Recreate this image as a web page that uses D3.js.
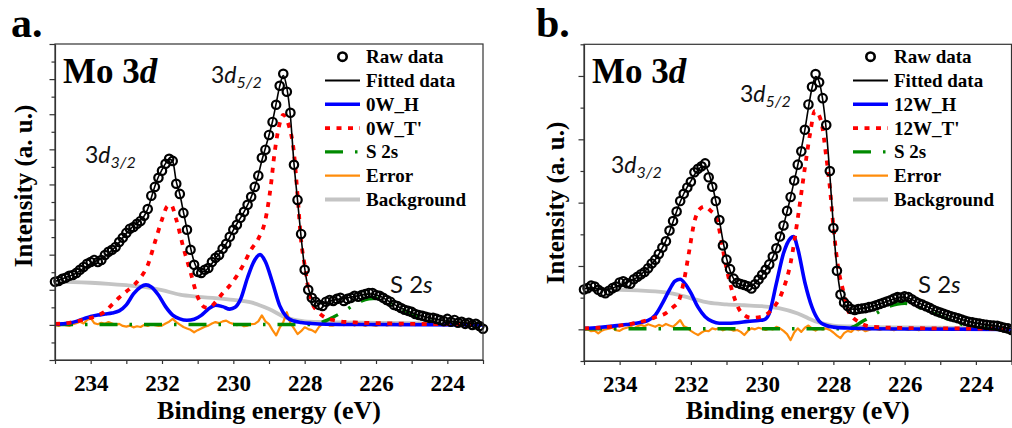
<!DOCTYPE html>
<html>
<head>
<meta charset="utf-8">
<script src="https://cdn.jsdelivr.net/npm/d3@7"></script>
<style>
  html, body { margin: 0; padding: 0; background: #fff; }
  svg { display: block; }
  .serif { font-family: "Liberation Serif", "Times New Roman", serif; font-weight: bold; }
  .sans { font-family: Lato, "Open Sans", sans-serif; }
</style>
</head>
<body>
<svg id="chart" width="1012" height="428"></svg>
<script>
// Binding-energy grid of the measured spectra (eV), 0.1 eV step from 235 to 223
const energies = d3.range(121).map(i => +(235 - i * 0.1).toFixed(1));
const xTicks = d3.range(223, 236);
const xTickLabels = [234, 232, 230, 228, 226, 224];

// ---------- Panel a: 0W ----------
const rawA = [1.23,1.25,1.31,1.34,1.40,1.42,1.48,1.57,1.65,1.74,
  1.79,1.85,1.79,1.85,1.99,2.08,2.14,2.22,2.36,2.48,
  2.62,2.74,2.79,2.88,2.96,3.11,3.30,3.68,3.93,4.19,
  4.39,4.59,4.73,4.67,4.02,3.73,3.19,2.71,2.14,1.71,
  1.51,1.48,1.57,1.62,1.79,1.91,1.99,2.17,2.31,2.51,
  2.71,2.85,3.05,3.22,3.42,3.65,3.93,4.25,4.76,4.99,
  5.41,
  5.78,6.27,6.81,7.15,6.64,6.04,4.56,3.56,2.59,1.57,
  1.00,0.77,0.66,0.57,0.54,0.66,0.71,0.68,0.74,0.77,
  0.68,0.74,0.77,0.83,0.80,0.85,0.88,0.91,0.91,0.85,
  0.83,0.77,0.71,0.66,0.57,0.54,0.48,0.43,0.40,0.37,
  0.31,0.28,0.26,0.23,0.20,0.20,0.17,0.14,0.11,0.17,
  0.09,0.14,0.06,0.09,0.03,0.06,0.00,0.03,-0.03,-0.11];

const fitA = [1.24,1.27,1.31,1.35,1.39,1.43,1.48,1.54,1.61,1.68,
  1.75,1.80,1.84,1.89,1.96,2.04,2.13,2.23,2.35,2.48,
  2.61,2.72,2.82,2.90,2.99,3.10,3.30,3.62,3.95,4.22,
  4.42,4.60,4.72,4.66,4.08,3.72,3.22,2.72,2.20,1.80,
  1.58,1.50,1.53,1.62,1.75,1.90,2.02,2.16,2.31,2.50,
  2.70,2.88,3.05,3.22,3.42,3.64,3.92,4.27,4.68,5.04,
  5.40,
  5.80,6.30,6.80,7.10,6.75,5.95,4.60,3.55,2.50,1.62,
  1.05,0.78,0.66,0.60,0.60,0.63,0.67,0.70,0.72,0.74,
  0.75,0.77,0.79,0.81,0.83,0.85,0.87,0.88,0.88,0.86,
  0.82,0.77,0.71,0.65,0.59,0.53,0.48,0.43,0.39,0.35,
  0.31,0.28,0.25,0.22,0.20,0.18,0.16,0.14,0.12,0.11,
  0.10,0.09,0.08,0.07,0.06,0.05,0.05,0.04,0.04,0.03];

const errA = [0.00,-0.03,0.02,-0.01,-0.03,0.02,0.05,0.09,0.04,0.14,
  0.20,0.05,0.02,0.06,0.03,0.08,0.04,0.00,0.03,-0.03,
  -0.05,-0.02,-0.07,-0.04,-0.06,0.00,-0.03,0.02,-0.01,-0.03,
  -0.02,0.04,0.09,0.17,0.08,0.01,-0.06,-0.10,-0.14,-0.21,
  -0.15,-0.10,-0.05,-0.02,0.04,0.08,0.05,0.10,0.12,0.06,
  0.03,-0.01,0.02,-0.04,-0.02,0.02,0.03,0.10,0.27,0.10,
  0.02,
  -0.15,-0.30,-0.08,0.08,0.36,0.05,-0.10,-0.26,-0.18,-0.07,
  -0.12,-0.15,-0.21,-0.06,0.03,0.05,-0.02,-0.02,0.02,0.03,
  -0.01,0.04,0.02,-0.02,0.05,0.01,-0.03,0.02,-0.01,-0.03,
  0.01,0.03,-0.02,0.01,0.04,0.00,-0.02,0.03,0.01,0.02,
  -0.01,0.03,0.00,0.05,0.08,0.12,0.04,0.01,-0.02,0.00,
  0.02,-0.01,0.01,0.03,0.02,0.00,-0.01,0.01,0.00,0.00];

const hA = [[235,0.02],[234.8,0.03],[234.6,0.05],[234.4,0.10],[234.2,0.17],[234.0,0.24],[233.8,0.28],[233.6,0.31],
  [233.4,0.34],[233.2,0.40],[233.0,0.57],[232.8,0.88],[232.6,1.08],[232.45,1.14],[232.3,1.08],[232.1,0.85],
  [231.9,0.52],[231.7,0.28],[231.5,0.17],[231.3,0.13],[231.1,0.16],[230.9,0.27],[230.7,0.45],[230.5,0.56],
  [230.3,0.52],[230.1,0.45],[229.95,0.50],[229.8,0.72],[229.6,1.35],[229.4,1.85],[229.25,2.00],[229.1,1.80],
  [228.9,1.20],[228.7,0.55],[228.5,0.22],[228.3,0.11],[228.1,0.07],[227.8,0.04],[227.4,0.02],[226.5,0.01],[223,0.0]];

const tA = [[235,0.03],[234.8,0.04],[234.6,0.06],[234.4,0.10],[234.2,0.15],[234.0,0.20],[233.8,0.27],[233.6,0.38],
  [233.4,0.58],[233.2,0.78],[233.0,0.95],[232.8,1.12],[232.6,1.35],[232.4,1.70],[232.2,2.35],[232.0,3.00],
  [231.85,3.38],[231.75,3.42],[231.6,3.00],[231.4,2.20],[231.2,1.50],[231.0,0.80],[230.8,0.50],[230.7,0.48],
  [230.5,0.65],[230.3,0.90],[230.1,1.12],[229.9,1.40],[229.7,1.75],[229.5,2.15],[229.3,2.45],[229.1,3.00],
  [228.95,3.95],[228.85,4.85],[228.75,5.50],[228.6,5.98],[228.45,5.70],[228.3,4.90],[228.2,3.70],[228.1,2.40],
  [228.0,1.70],[227.9,1.05],[227.8,0.65],[227.6,0.35],[227.4,0.20],[227.2,0.14],[227.0,0.10],[226.6,0.07],
  [226.0,0.05],[225.0,0.03],[224.0,0.02],[223.0,0.02]];

const sA = [[235,0.01],[227.8,0.01],[227.6,0.05],[227.4,0.12],[227.2,0.22],[227.0,0.33],[226.8,0.45],[226.6,0.58],
  [226.4,0.68],[226.2,0.74],[226.0,0.76],[225.8,0.72],[225.6,0.62],[225.4,0.52],[225.2,0.41],[225.0,0.31],
  [224.8,0.22],[224.6,0.15],[224.4,0.09],[224.2,0.05],[224.0,0.03],[223.5,0.01],[223,0.01]];

const bgA = [[235,1.23],[234.5,1.22],[234.0,1.20],[233.5,1.17],[233.0,1.13],[232.5,1.08],[232.0,0.99],[231.5,0.86],
  [231.0,0.80],[230.5,0.76],[230.0,0.71],[229.5,0.64],[229.0,0.45],[228.5,0.20],[228.0,0.10],[227.5,0.08],
  [227.0,0.07],[226.0,0.06],[225.0,0.05],[224.0,0.04],[223.0,0.03]];

// ---------- Panel b: 12W ----------
const rawB = [1.26,1.30,1.38,1.35,1.25,1.18,1.14,1.22,1.30,1.35,
  1.48,1.52,1.46,1.44,1.58,1.66,1.74,1.81,1.93,2.08,
  2.20,2.38,2.58,2.78,3.12,3.42,3.72,4.05,4.28,4.48,
  4.66,4.96,5.07,5.15,5.24,4.80,4.50,4.05,3.45,2.65,
  2.20,1.90,1.60,1.47,1.43,1.40,1.36,1.29,1.42,1.57,
  1.72,1.88,2.05,2.30,2.56,2.93,3.28,3.74,4.18,4.70,
  5.20,
  5.62,6.30,7.10,7.66,8.06,7.80,7.30,6.45,5.00,3.20,
  1.85,1.10,0.85,0.74,0.64,0.61,0.64,0.66,0.67,0.70,
  0.72,0.76,0.80,0.84,0.88,0.92,0.97,1.02,1.00,1.04,
  1.02,0.95,0.88,0.82,0.78,0.73,0.68,0.62,0.57,0.53,
  0.49,0.45,0.41,0.38,0.35,0.31,0.27,0.24,0.22,0.20,
  0.18,0.16,0.14,0.13,0.12,0.11,0.08,0.05,0.03,-0.02];

const fitB = [1.28,1.30,1.31,1.30,1.28,1.26,1.25,1.27,1.30,1.35,
  1.40,1.44,1.48,1.53,1.58,1.65,1.74,1.83,1.94,2.06,
  2.20,2.37,2.57,2.80,3.08,3.40,3.72,4.02,4.28,4.50,
  4.68,4.88,5.03,5.13,5.15,4.95,4.55,4.05,3.45,2.80,
  2.25,1.85,1.60,1.47,1.41,1.38,1.36,1.38,1.45,1.57,
  1.71,1.87,2.05,2.28,2.56,2.90,3.28,3.72,4.18,4.68,
  5.18,
  5.70,6.30,7.00,7.62,7.98,7.82,7.25,6.30,4.90,3.25,
  1.95,1.15,0.82,0.70,0.65,0.63,0.64,0.66,0.68,0.70,
  0.73,0.76,0.80,0.84,0.88,0.92,0.96,0.99,1.01,1.01,
  0.98,0.94,0.89,0.83,0.78,0.73,0.68,0.62,0.57,0.53,
  0.49,0.45,0.41,0.38,0.35,0.31,0.28,0.25,0.22,0.20,
  0.18,0.16,0.14,0.13,0.12,0.10,0.08,0.06,0.04,0.03];

const errB = [-0.02,0.00,-0.06,-0.04,-0.13,-0.04,0.00,0.02,0.05,-0.03,
  -0.05,0.02,0.05,0.08,0.03,0.10,0.14,0.10,0.16,0.12,
  0.08,0.14,0.10,0.17,0.12,0.08,0.18,0.29,0.10,0.05,
  -0.05,-0.12,-0.18,-0.10,-0.04,-0.06,0.03,0.00,0.04,-0.03,
  0.02,0.00,-0.04,-0.02,-0.08,-0.18,-0.05,0.03,0.00,0.05,
  0.02,-0.02,0.03,0.00,0.08,0.03,-0.05,-0.15,-0.34,-0.10,
  0.03,
  -0.08,0.05,0.12,0.02,-0.04,0.03,0.00,0.03,-0.02,-0.10,
  -0.20,-0.28,-0.12,-0.05,-0.08,0.02,-0.03,0.01,-0.06,-0.02,
  0.03,0.01,-0.02,0.02,0.04,0.00,-0.03,0.02,0.05,0.01,
  -0.02,0.02,0.00,-0.03,0.01,0.03,0.00,-0.02,0.02,0.05,
  0.01,-0.02,0.00,0.02,-0.01,0.01,0.03,0.00,-0.02,0.01,
  0.00,0.02,-0.01,0.00,0.01,-0.01,0.00,0.01,0.00,0.00];

const hB = [[235,0.03],[234.6,0.06],[234.2,0.10],[233.8,0.15],[233.4,0.22],[233.2,0.28],[233.0,0.45],[232.8,0.82],
  [232.6,1.25],[232.45,1.52],[232.3,1.58],[232.15,1.42],[232.0,1.15],[231.8,0.70],[231.6,0.40],[231.4,0.25],
  [231.2,0.19],[231.0,0.19],[230.7,0.21],[230.4,0.25],[230.1,0.28],[229.95,0.30],[229.8,0.50],[229.6,1.45],
  [229.4,2.40],[229.2,2.88],[229.12,2.93],[229.0,2.55],[228.8,1.48],[228.6,0.70],[228.4,0.26],[228.2,0.12],
  [228.0,0.07],[227.6,0.04],[227.0,0.02],[226.0,0.01],[223,0.0]];

const tB = [[235,0.03],[234.6,0.05],[234.2,0.09],[233.8,0.15],[233.4,0.24],[233.2,0.30],[233.0,0.38],[232.7,0.51],
  [232.5,0.70],[232.35,0.87],[232.2,1.50],[232.05,2.45],[231.9,3.40],[231.75,3.80],[231.62,3.88],[231.45,3.75],
  [231.3,3.55],[231.15,2.85],[231.05,2.20],[230.9,1.45],[230.75,0.90],[230.6,0.55],[230.3,0.36],[230.0,0.40],
  [229.75,0.60],[229.45,1.14],[229.2,2.10],[229.0,3.50],[228.8,5.10],[228.65,6.20],[228.52,6.90],[228.35,6.60],
  [228.2,5.45],[228.1,4.50],[228.0,3.25],[227.87,1.98],[227.73,1.24],[227.6,0.62],[227.3,0.24],[226.9,0.08],
  [226.0,0.04],[225.0,0.03],[223,0.02]];

const sB = [[235,0.02],[227.6,0.02],[227.4,0.10],[227.2,0.24],[227.0,0.36],[226.8,0.50],[226.6,0.64],[226.4,0.74],
  [226.2,0.80],[226.0,0.82],[225.8,0.78],[225.6,0.69],[225.4,0.60],[225.2,0.51],[225.0,0.42],[224.8,0.33],
  [224.6,0.24],[224.4,0.16],[224.2,0.10],[224.0,0.06],[223.8,0.04],[223.4,0.02],[223,0.02]];

const bgB = [[235,1.26],[234.5,1.26],[234.0,1.25],[233.5,1.23],[233.0,1.20],[232.5,1.13],[232.0,0.98],[231.5,0.84],
  [231.0,0.79],[230.5,0.76],[230.0,0.73],[229.5,0.66],[229.0,0.50],[228.5,0.25],[228.0,0.12],[227.5,0.09],
  [227.0,0.07],[226.0,0.06],[225.0,0.05],[224.0,0.04],[223.0,0.03]];

const legendLabelsA = ["Raw data", "Fitted data", "0W_H", "0W_T'", "S 2s", "Error", "Background"];
const legendLabelsB = ["Raw data", "Fitted data", "12W_H", "12W_T'", "S 2s", "Error", "Background"];

// Line styles of the fit components
const styles = {
  fit:   { stroke: "#000", width: 1.6, dash: null },
  H:     { stroke: "#0000ff", width: 3.6, dash: null },
  T:     { stroke: "#ff0000", width: 3.8, dash: "5,6.5" },
  S:     { stroke: "#008a00", width: 3.4, dash: "18,12,2.5,12" },
  err:   { stroke: "#ff8c0a", width: 2.2, dash: null },
  bg:    { stroke: "#c4c4c4", width: 3.8, dash: null }
};

const svg = d3.select("#chart");

function drawPanel(p) {
  const x = d3.scaleLinear().domain([235, 223]).range([p.left, p.right]);
  const y = d3.scaleLinear().domain(p.yDomain).range([p.bottom, p.top]);
  const g = svg.append("g");

  const clipId = "clip-" + p.id;
  g.append("clipPath").attr("id", clipId).append("rect")
    .attr("x", p.left).attr("y", p.top).attr("width", p.right - p.left).attr("height", p.bottom - p.top);

  const pairLine = d3.line().x(d => x(d[0])).y(d => y(d[1])).curve(d3.curveMonotoneX);
  const gridLine = d3.line().x((d, i) => x(energies[i])).y(d => y(d)).curve(d3.curveMonotoneX);
  const errLine = d3.line().x((d, i) => x(energies[i])).y(d => y(d)).curve(d3.curveLinear);

  const plot = g.append("g").attr("clip-path", `url(#${clipId})`);
  function path(gen, data, st) {
    const el = plot.append("path").datum(data).attr("d", gen)
      .attr("fill", "none").attr("stroke", st.stroke).attr("stroke-width", st.width)
      .attr("stroke-linejoin", "round");
    if (st.dash) el.attr("stroke-dasharray", st.dash);
    return el;
  }
  path(pairLine, p.bg, styles.bg);
  path(errLine, p.err, styles.err);
  path(pairLine, p.s, styles.S);
  path(pairLine, p.h, styles.H);
  path(pairLine, p.t, styles.T);

  // raw data circles
  g.append("g").selectAll("circle").data(p.raw).join("circle")
    .attr("cx", (d, i) => x(energies[i])).attr("cy", d => y(d)).attr("r", 4.2)
    .attr("fill", "none").attr("stroke", "#000").attr("stroke-width", 2.2);
  // fitted envelope on top
  g.append("path").datum(p.fit).attr("d", gridLine)
    .attr("fill", "none").attr("stroke", styles.fit.stroke).attr("stroke-width", styles.fit.width);

  // frame
  g.append("rect").attr("x", p.left).attr("y", p.top).attr("width", p.right - p.left).attr("height", p.bottom - p.top)
    .attr("fill", "none").attr("stroke", "#333").attr("stroke-width", 1.2);

  // x axis
  const xAxis = d3.axisBottom(x).tickValues(xTicks)
    .tickFormat(d => xTickLabels.includes(d) ? d : "")
    .tickSizeInner(4).tickSizeOuter(0).tickPadding(11);
  const xa = g.append("g").attr("transform", `translate(0,${p.bottom})`).call(xAxis);
  xa.select(".domain").attr("stroke", "#333").attr("stroke-width", 1.2);
  xa.selectAll(".tick line").attr("stroke", "#333").attr("stroke-width", 1.2);
  xa.selectAll(".tick text").attr("class", "serif").attr("font-size", 23).attr("fill", "#000");

  // y axis (unlabelled, major and minor ticks)
  const yAxis = d3.axisLeft(y).tickValues(p.yTicks).tickFormat("").tickSizeOuter(0).tickSizeInner(5);
  const ya = g.append("g").attr("transform", `translate(${p.left},0)`).call(yAxis);
  ya.select(".domain").attr("stroke", "#333").attr("stroke-width", 1.2);
  ya.selectAll(".tick line").attr("stroke", "#333").attr("stroke-width", 1.2)
    .attr("x2", d => p.yMajor(d) ? -5.5 : -3.5);

  // axis titles
  g.append("text").attr("class", "serif").attr("font-size", 26).attr("text-anchor", "middle")
    .attr("x", (p.left + p.right) / 2).attr("y", 419).text("Binding energy (eV)");
  g.append("text").attr("class", "serif").attr("font-size", 25).attr("text-anchor", "middle")
    .attr("transform", `translate(${p.yLabelX},${p.yLabelY}) rotate(-90)`).text("Intensity (a. u.)");

  // panel letter
  g.append("text").attr("class", "serif").attr("font-size", 42).attr("x", p.letterX).attr("y", 37).text(p.letter);

  // "Mo 3d"
  const mo = g.append("text").attr("class", "serif").attr("font-size", 35).attr("x", p.left + 8).attr("y", 83);
  mo.append("tspan").text("Mo 3");
  mo.append("tspan").attr("font-style", "italic").text("d");

  // peak annotations
  function orbital(xp, yp, sub) {
    const t = g.append("text").attr("class", "sans").attr("font-size", 23).attr("x", xp).attr("y", yp).attr("fill", "#111");
    t.append("tspan").text("3");
    t.append("tspan").attr("font-style", "italic").text("d");
    t.append("tspan").attr("font-style", "italic").attr("font-size", 16).attr("dy", 5).text(sub);
  }
  orbital(p.d52[0], p.d52[1], "5/2");
  orbital(p.d32[0], p.d32[1], "3/2");
  const s2 = g.append("text").attr("class", "sans").attr("font-size", 24).attr("x", p.s2s[0]).attr("y", p.s2s[1]).attr("fill", "#111");
  s2.append("tspan").text("S 2");
  s2.append("tspan").attr("font-style", "italic").text("s");

  // legend
  const lg = g.append("g");
  const rows = [null, styles.fit, styles.H, styles.T, styles.S, styles.err, styles.bg];
  p.legend.forEach((label, i) => {
    const ry = p.legTop + i * 23.8;
    if (i === 0) {
      lg.append("circle").attr("cx", (p.legX0 + p.legX1) / 2).attr("cy", ry).attr("r", 4.2)
        .attr("fill", "none").attr("stroke", "#000").attr("stroke-width", 2.6);
    } else {
      const st = rows[i];
      const l = lg.append("line").attr("x1", p.legX0).attr("x2", p.legX1).attr("y1", ry).attr("y2", ry)
        .attr("stroke", st.stroke).attr("stroke-width", i === 1 ? 2 : st.width);
      if (st.dash) l.attr("stroke-dasharray", st.dash);
    }
    lg.append("text").attr("class", "serif").attr("font-size", 19).attr("x", p.legX1 + 6).attr("y", ry + 6.5).text(label);
  });
}

drawPanel({
  id: "a", letter: "a.", letterX: 11,
  left: 55, right: 483, top: 44, bottom: 360,
  yDomain: [-1, 8], yTicks: d3.range(-1, 8.01, 0.5), yMajor: d => Math.abs(d - Math.round(d)) < 1e-6,
  raw: rawA, fit: fitA, err: errA, h: hA, t: tA, s: sA, bg: bgA,
  yLabelX: 32, yLabelY: 186,
  d52: [211, 83], d32: [85, 163], s2s: [390, 293],
  legend: legendLabelsA, legTop: 56.7, legX0: 325, legX1: 360
});

drawPanel({
  id: "b", letter: "b.", letterX: 536,
  left: 584, right: 1011.5, top: 44.3, bottom: 361,
  yDomain: [-1, 9], yTicks: d3.range(-1, 9.01, 1), yMajor: d => Math.round(d) % 2 === 0,
  raw: rawB, fit: fitB, err: errB, h: hB, t: tB, s: sB, bg: bgB,
  yLabelX: 564, yLabelY: 203,
  d52: [740, 102], d32: [611, 173], s2s: [918, 293],
  legend: legendLabelsB, legTop: 56.7, legX0: 853, legX1: 888
});
</script>
</body>
</html>
